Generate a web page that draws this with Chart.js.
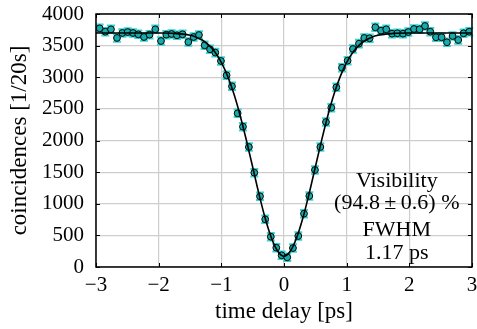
<!DOCTYPE html>
<html>
<head>
<meta charset="utf-8">
<script src="https://cdn.jsdelivr.net/npm/chart.js@4"></script>
<style>
  html, body { margin: 0; padding: 0; background: #fff; }
</style>
</head>
<body>
<canvas id="chart" width="477" height="329"></canvas>
<script>
// measured coincidences vs. time delay
const delay = [-2.942, -2.852, -2.761, -2.665, -2.58, -2.495, -2.41, -2.325, -2.234, -2.145,
  -2.054, -1.963, -1.878, -1.794, -1.708, -1.618, -1.527, -1.443, -1.357, -1.267,
  -1.18, -1.096, -1.006, -0.916, -0.83, -0.74, -0.655, -0.56, -0.474, -0.383,
  -0.3, -0.21, -0.123, -0.038, 0.052, 0.143, 0.228, 0.319, 0.404, 0.494,
  0.58, 0.67, 0.755, 0.835, 0.925, 1.015, 1.1, 1.196, 1.28, 1.366,
  1.457, 1.548, 1.632, 1.723, 1.808, 1.899, 1.984, 2.074, 2.164, 2.25,
  2.334, 2.425, 2.515, 2.6, 2.69, 2.78, 2.865, 2.956];
const counts = [3774, 3720, 3758, 3621, 3700, 3715, 3700, 3679, 3636, 3673,
  3758, 3573, 3673, 3684, 3663, 3679, 3557, 3636, 3668, 3505,
  3442, 3390, 3257, 3031, 2857, 2430, 2218, 1897, 1491, 1118,
  754, 479, 305, 185, 153, 300, 490, 843, 1123, 1534,
  1897, 2292, 2519, 2841, 3151, 3262, 3447, 3531, 3621, 3616,
  3790, 3736, 3758, 3689, 3695, 3689, 3715, 3763, 3758, 3810,
  3720, 3632, 3632, 3553, 3652, 3589, 3695, 3720];
const errBar = 60;

// fit curve
const fitDelay = [-3, -2.5, -2, -1.75, -1.5, -1.4, -1.3, -1.2, -1.1, -1.0, -0.9, -0.8, -0.7,
  -0.6, -0.5, -0.4, -0.3, -0.2, -0.1, 0, 0.1, 0.2, 0.3, 0.4, 0.5, 0.6, 0.7, 0.8, 0.9,
  1.0, 1.1, 1.2, 1.3, 1.4, 1.5, 1.75, 2, 2.5, 3];
const fitCounts = [3700, 3700, 3699, 3693, 3663, 3634, 3585, 3509, 3396, 3235, 3018, 2738, 2396,
  2003, 1581, 1157, 771, 459, 250, 170, 250, 459, 771, 1157, 1581, 2003, 2396, 2738, 3018,
  3235, 3396, 3509, 3585, 3634, 3663, 3693, 3699, 3700, 3700];

const xTicks = [-3, -2, -1, 0, 1, 2, 3];
const yTicks = [0, 500, 1000, 1500, 2000, 2500, 3000, 3500, 4000];
const noteLines = ['Visibility', '(94.8\u2009\u00b1\u20090.6) %', 'FWHM', '1.17 ps'];
const noteY = [1265, 917, 490, 126];
const noteX = 1.8;

const serif = '"Liberation Serif", "DejaVu Serif", serif';

const errorBars = {
  id: 'errorBars',
  beforeDatasetsDraw(chart) {
    const ctx = chart.ctx, xs = chart.scales.x, ys = chart.scales.y;
    ctx.save();
    ctx.strokeStyle = '#35d6d6';
    ctx.lineWidth = 2;
    for (let i = 0; i < delay.length; i++) {
      const px = xs.getPixelForValue(delay[i]);
      const top = ys.getPixelForValue(counts[i] + errBar);
      const bot = ys.getPixelForValue(counts[i] - errBar);
      ctx.beginPath();
      ctx.moveTo(px, top); ctx.lineTo(px, bot);
      ctx.moveTo(px - 4, top); ctx.lineTo(px + 4, top);
      ctx.moveTo(px - 4, bot); ctx.lineTo(px + 4, bot);
      ctx.stroke();
    }
    ctx.restore();
  }
};

const frame = {
  id: 'frame',
  afterDatasetsDraw(chart) {
    const ctx = chart.ctx, a = chart.chartArea, xs = chart.scales.x, ys = chart.scales.y;
    ctx.save();
    // annotation
    ctx.fillStyle = '#000';
    ctx.font = '22px ' + serif;
    ctx.textAlign = 'center';
    ctx.textBaseline = 'alphabetic';
    noteLines.forEach((t, i) => {
      ctx.fillText(t, xs.getPixelForValue(noteX), ys.getPixelForValue(noteY[i]));
    });
    // inward ticks
    ctx.strokeStyle = '#000';
    ctx.lineWidth = 1;
    ctx.beginPath();
    xTicks.forEach(v => {
      const p = Math.round(xs.getPixelForValue(v)) + 0.5;
      ctx.moveTo(p, a.bottom); ctx.lineTo(p, a.bottom - 4);
      ctx.moveTo(p, a.top); ctx.lineTo(p, a.top + 4);
    });
    yTicks.forEach(v => {
      const p = Math.round(ys.getPixelForValue(v)) + 0.5;
      ctx.moveTo(a.left, p); ctx.lineTo(a.left + 4, p);
      ctx.moveTo(a.right, p); ctx.lineTo(a.right - 4, p);
    });
    ctx.stroke();
    ctx.lineWidth = 1.5;
    ctx.strokeRect(a.left, a.top, a.right - a.left, a.bottom - a.top);
    ctx.restore();
  }
};

new Chart(document.getElementById('chart'), {
  type: 'scatter',
  data: {
    datasets: [
      {
        type: 'line',
        data: fitDelay.map((x, i) => ({ x: x, y: fitCounts[i] })),
        borderColor: '#000',
        borderWidth: 1.6,
        pointRadius: 0,
        cubicInterpolationMode: 'monotone',
        fill: false
      },
      {
        data: delay.map((x, i) => ({ x: x, y: counts[i] })),
        pointRadius: 3.4,
        backgroundColor: '#19abab',
        borderColor: '#000',
        borderWidth: 1
      }
    ]
  },
  plugins: [errorBars, frame],
  options: {
    responsive: false,
    animation: false,
    devicePixelRatio: 1,
    layout: { padding: { top: 14, right: 5, left: 0, bottom: 0 } },
    plugins: { legend: { display: false }, tooltip: { enabled: false } },
    scales: {
      x: {
        type: 'linear',
        min: -3, max: 3,
        afterBuildTicks: s => { s.ticks = xTicks.map(v => ({ value: v })); },
        afterFit: s => { s.height = 62; s.paddingLeft = 0; s.paddingRight = 0; },
        grid: { color: '#cdcdcd', lineWidth: 1.2, drawTicks: false },
        border: { display: false },
        ticks: {
          color: '#000',
          padding: 6,
          maxRotation: 0,
          font: { family: serif, size: 21 },
          callback: v => String(v).replace('-', '\u2212')
        },
        title: {
          display: true,
          text: 'time delay [ps]',
          color: '#000',
          font: { family: serif, size: 23 },
          padding: { top: 0, bottom: 3 }
        }
      },
      y: {
        min: 0, max: 4000,
        afterBuildTicks: s => { s.ticks = yTicks.map(v => ({ value: v })); },
        afterFit: s => { s.width = 96; s.paddingTop = 0; s.paddingBottom = 0; },
        grid: { color: '#cdcdcd', lineWidth: 1.2, drawTicks: false },
        border: { display: false },
        ticks: {
          color: '#000',
          padding: 12,
          font: { family: serif, size: 21 },
          callback: v => String(v)
        },
        title: {
          display: true,
          text: 'coincidences [1/20s]',
          color: '#000',
          font: { family: serif, size: 23 },
          padding: { top: 6, bottom: 0 }
        }
      }
    }
  }
});
</script>
</body>
</html>
